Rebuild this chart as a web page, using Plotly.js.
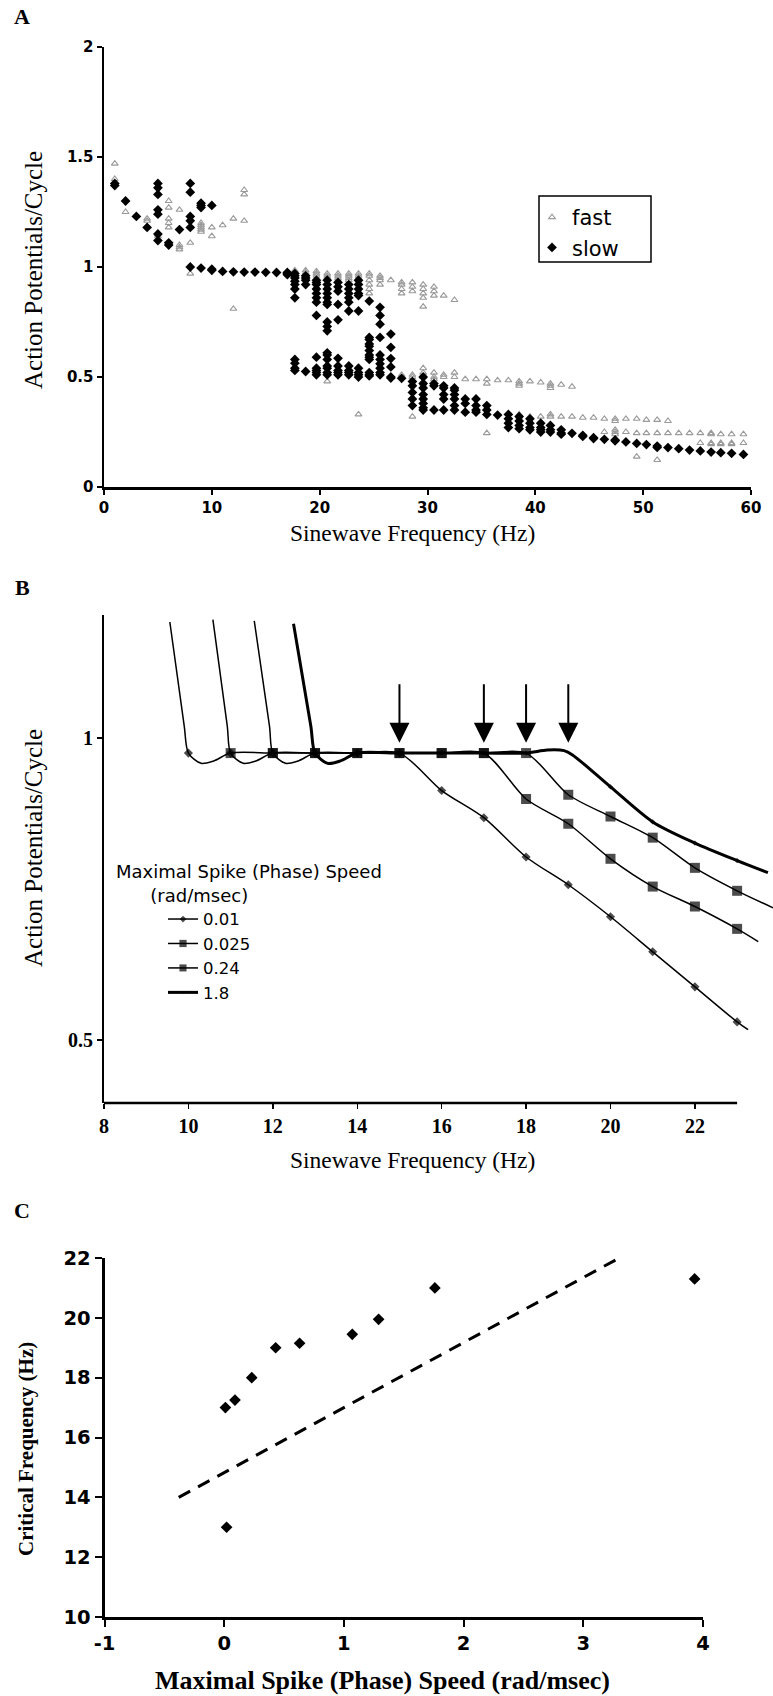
<!DOCTYPE html>
<html>
<head>
<meta charset="utf-8">
<script src="https://cdn.plot.ly/plotly-3.0.1.min.js"></script>
<style>html,body{margin:0;padding:0;background:#fff;}#chart{width:773px;height:1696px;}</style>
</head>
<body>
<div id="chart"></div>
<script>
// ---------- Panel A data (frequency columns and the values read in each) ----------
const slowFreq = [1,2,3,4,5,6,7,8,9,10,11,12,13,14,15,16,17,17.7,18.7,19.7,20.7,21.7,22.7,23.6,24.6,25.6,26.6,27.6,28.6,29.6,30.6,31.5,32.5,33.5,34.5,35.5,36.5,37.5,38.5,39.5,40.5,41.4,42.4,43.4,44.4,45.4,46.4,47.4,48.4,49.4,50.3,51.3,52.3,53.3,54.3,55.3,56.3,57.2,58.2,59.3,60.1];
const slowVals = [
  [1.38,1.37],[1.30],[1.23],[1.18],[1.38,1.36,1.33,1.26,1.24,1.15,1.12],[1.11,1.10],[1.17],
  [1.38,1.34,1.23,1.21,1.18,1.00],[1.29,1.28,1.27,0.995],[1.28,0.99,0.985],[0.98],[0.978],[0.977],[0.977],[0.976],[0.975],[0.975,0.97,0.965],
  [0.97,0.96,0.95,0.935,0.92,0.90,0.86,0.58,0.563,0.54,0.53],
  [0.96,0.95,0.94,0.92,0.525],
  [0.94,0.93,0.92,0.90,0.88,0.86,0.84,0.78,0.59,0.54,0.53,0.52,0.51],
  [0.94,0.92,0.90,0.88,0.86,0.84,0.83,0.75,0.73,0.71,0.61,0.60,0.58,0.55,0.54,0.52,0.51],
  [0.93,0.91,0.89,0.83,0.76,0.585,0.55,0.53,0.52,0.51],
  [0.92,0.90,0.88,0.86,0.84,0.80,0.55,0.53,0.52,0.51],
  [0.94,0.92,0.90,0.88,0.87,0.80,0.54,0.52,0.51,0.50],
  [0.845,0.68,0.67,0.65,0.64,0.62,0.60,0.59,0.58,0.52,0.51,0.505],
  [0.817,0.78,0.74,0.68,0.60,0.58,0.56,0.54,0.52,0.51],
  [0.695,0.635,0.584,0.546,0.50,0.495],
  [0.494],
  [0.48,0.46,0.43,0.40,0.37],
  [0.50,0.47,0.45,0.42,0.40,0.38,0.36,0.35],
  [0.47,0.46,0.35],
  [0.46,0.45,0.42,0.40,0.35],
  [0.45,0.44,0.42,0.40,0.37,0.35],
  [0.40,0.38,0.34],
  [0.40,0.37,0.35,0.34],
  [0.37,0.35,0.33],
  [0.327],
  [0.33,0.31,0.29,0.27],
  [0.32,0.30,0.28,0.265],
  [0.31,0.29,0.27,0.26],
  [0.29,0.27,0.26,0.25],
  [0.28,0.26,0.25],
  [0.26,0.245,0.24],
  [0.244],[0.235,0.23],[0.224,0.22],[0.217],[0.214,0.21],[0.205],[0.198],[0.193],[0.186,0.18],[0.179],[0.174],[0.168],[0.164],[0.159],[0.156],[0.153],[0.148],[0.144]
];
const fastFreq = [1,2,4,5,6,7,8,9,10,11,12,13,17.7,18.7,19.7,20.7,21.7,22.7,23.6,24.6,25.6,26.6,27.6,28.6,29.6,30.6,31.5,32.5,33.5,34.5,35.5,36.5,37.5,38.5,39.5,40.5,41.4,42.4,43.4,44.4,45.4,46.4,47.4,48.4,49.4,50.3,51.3,52.3,53.3,54.3,55.3,56.3,57.2,58.2,59.3,60.1];
const fastVals = [
  [1.47,1.40],[1.25],[1.22,1.21],[1.15,1.14],[1.30,1.27,1.22,1.20,1.18],[1.26,1.10,1.09,1.08],[1.11,0.97],
  [1.20,1.19,1.18,1.17,1.16],[1.18,1.14],[1.19],[1.22,0.81],[1.35,1.33,1.21],
  [0.985,0.98],[0.985,0.975],[0.98,0.97,0.96],[0.97,0.96,0.95,0.48],[0.97,0.96,0.95,0.94],[0.97,0.96,0.95,0.94],
  [0.97,0.96,0.95,0.94,0.93,0.33],[0.97,0.96,0.94,0.92,0.90,0.88],[0.96,0.95,0.94,0.92],[0.94],
  [0.93,0.92,0.90,0.88,0.51],[0.93,0.91,0.89,0.51,0.50,0.48,0.32],[0.92,0.90,0.88,0.86,0.82,0.54,0.52,0.50,0.48,0.47],
  [0.91,0.89,0.87,0.52,0.50,0.49],[0.87,0.51,0.50],[0.85,0.52,0.50],[0.49],[0.49],[0.49,0.47,0.245],[0.485],[0.485],
  [0.48,0.47,0.46,0.33,0.32],[0.48,0.32],[0.475,0.32],[0.47,0.46,0.45,0.33,0.32],[0.465,0.32],[0.456,0.32],[0.315],[0.315],
  [0.31,0.25],[0.31,0.30,0.26,0.25,0.24],[0.31,0.25],[0.31,0.245,0.138],[0.305,0.245],[0.305,0.245,0.123],[0.30,0.245],
  [0.245],[0.245],[0.245,0.2],[0.245,0.24,0.2,0.195],[0.24,0.2,0.195],[0.24,0.2,0.195],[0.24,0.2],[0.235,0.2,0.1]
];

// ---------- Panel B data ----------
const bNames = ['0.01','0.025','0.24','1.8'];
const bX001 = [9.56,9.9,10,10.3,10.6,11,12,13,14,15,16,17,18,19,20,21,22,23,23.26];
const bY001 = [1.192,1.02,0.975,0.958,0.962,0.975,0.975,0.975,0.975,0.975,0.913,0.868,0.803,0.757,0.704,0.646,0.588,0.530,0.517];
const bX0025 = [10.58,10.92,11,11.3,11.6,12,13,14,15,16,17,18,19,20,21,22,23,23.5];
const bY0025 = [1.196,1.02,0.975,0.958,0.962,0.975,0.975,0.975,0.975,0.975,0.975,0.899,0.858,0.800,0.754,0.721,0.684,0.663];
const bX024 = [11.56,11.92,12,12.3,12.6,13,14,15,16,17,18,19,20,21,22,23,23.85];
const bY024 = [1.194,1.02,0.975,0.958,0.962,0.975,0.975,0.975,0.975,0.975,0.975,0.906,0.870,0.835,0.785,0.747,0.719];
const bX18 = [12.49,12.9,13,13.3,13.6,14,15,16,17,18,18.5,18.9,19.1,20,21,22,23,23.73];
const bY18 = [1.189,1.02,0.975,0.958,0.962,0.975,0.975,0.975,0.975,0.975,0.98,0.979,0.972,0.919,0.861,0.826,0.797,0.777];
const arrowFreq = [15,17,18,19];
const arrowLevel = 0.992;

// ---------- Panel C data ----------
const cSpeed = [0.02,0.01,0.09,0.23,0.43,0.63,1.07,1.29,1.76,3.93];
const cFreq  = [13,17,17.25,18,19,19.15,19.45,19.95,21,21.3];
const cTrendX = [-0.38,3.3];
const cTrendY = [14,22];

// ---------- build ----------
function flatten(freqs, vals){
  const xs=[], ys=[];
  freqs.forEach((f,i)=>vals[i].forEach(v=>{xs.push(f);ys.push(v);}));
  return {xs,ys};
}
const S = flatten(slowFreq, slowVals);
const F = flatten(fastFreq, fastVals);

const W=773, H=1696;
const px=v=>v/W, py=v=>1-v/H;

const sans='DejaVu Sans', serif='Liberation Serif';
const traces=[];
traces.push({type:'scatter',mode:'markers',x:F.xs,y:F.ys,name:'fast',xaxis:'x',yaxis:'y',cliponaxis:false,
  marker:{symbol:'triangle-up-open',size:6,color:'#9a9a9a',line:{width:1.1,color:'#9a9a9a'}},legend:'legend'});
traces.push({type:'scatter',mode:'markers',x:S.xs,y:S.ys,name:'slow',xaxis:'x',yaxis:'y',cliponaxis:false,
  marker:{symbol:'diamond',size:7.5,color:'#000'},legend:'legend'});

const bSeries=[[bX001,bY001,'diamond',7,1.5],[bX0025,bY0025,'square',10,1.5],[bX024,bY024,'square',10,1.5],[bX18,bY18,'diamond',4,3]];
bSeries.forEach((s,i)=>{
  traces.push({type:'scatter',mode:'lines+markers',x:s[0],y:s[1],name:bNames[i],xaxis:'x2',yaxis:'y2',cliponaxis:false,
    line:{shape:'spline',smoothing:0.8,color:'#000',width:s[4]},
    marker:{symbol:s[2],color:'#000',line:{width:0},size:s[0].map(v=>Number.isInteger(v)?s[3]:0)},legend:'legend2'});
});

traces.push({type:'scatter',mode:'lines',x:cTrendX,y:cTrendY,xaxis:'x3',yaxis:'y3',showlegend:false,
  line:{color:'#000',width:3,dash:'13px,9px'}});
traces.push({type:'scatter',mode:'markers',x:cSpeed,y:cFreq,xaxis:'x3',yaxis:'y3',showlegend:false,cliponaxis:false,
  marker:{symbol:'diamond',size:9,color:'#000'}});

const axBase={showgrid:false,zeroline:false,showline:true,linecolor:'#000',ticks:'outside',tickcolor:'#000',fixedrange:true};

function note(text,x,y,font,angle){
  return {text:text,xref:'paper',yref:'paper',x:px(x),y:py(y),xanchor:'center',yanchor:'middle',showarrow:false,font:font,textangle:angle||0};
}
const letterFont={family:serif,size:22,weight:700,color:'#000'};
const titleFont={family:serif,size:25,color:'#000'};
const xTitleFont={family:serif,size:23.5,color:'#000'};
const annotations=[
  note('A',22,17,letterFont), note('B',22,587,letterFont), note('C',22,1210,letterFont),
  note('Action Potentials/Cycle',33,270,titleFont,-90),
  note('Sinewave Frequency (Hz)',412,533,xTitleFont),
  note('Action Potentials/Cycle',33,848,titleFont,-90),
  note('Sinewave Frequency (Hz)',412,1160,xTitleFont),
  note('Critical Frequency (Hz)',26,1449,{family:serif,size:21,weight:700,color:'#000'},-90),
  note('Maximal Spike (Phase) Speed (rad/msec)',382,1680,{family:serif,size:26,weight:700,color:'#000'})
];
arrowFreq.forEach(f=>annotations.push({x:f,y:arrowLevel,xref:'x2',yref:'y2',text:'',showarrow:true,ax:0,ay:-60,axref:'pixel',ayref:'pixel',arrowhead:2,arrowsize:2,arrowwidth:2,arrowcolor:'#000'}));

const layout={
  width:W,height:H,margin:{l:0,r:0,t:0,b:0},paper_bgcolor:'#fff',plot_bgcolor:'rgba(0,0,0,0)',
  xaxis:Object.assign({},axBase,{domain:[px(104),px(751)],anchor:'y',range:[0,60],tickvals:[0,10,20,30,40,50,60],linewidth:2.5,tickwidth:2,ticklen:5,tickfont:{family:sans,size:15,weight:700,color:'#000'}}),
  yaxis:Object.assign({},axBase,{domain:[py(487),py(47)],anchor:'x',range:[0,2],tickvals:[0,0.5,1,1.5,2],linewidth:2.5,tickwidth:2,ticklen:5,tickfont:{family:sans,size:15,weight:700,color:'#000'}}),
  xaxis2:Object.assign({},axBase,{domain:[px(104),1],anchor:'y2',range:[8,23.85],showline:false,tickvals:[8,10,12,14,16,18,20,22],tickwidth:1.5,ticklen:5,tickfont:{family:serif,size:20,weight:700,color:'#000'}}),
  yaxis2:Object.assign({},axBase,{domain:[py(1103),py(615)],anchor:'x2',range:[0.3957,1.2036],tickvals:[0.5,1],ticktext:['0.5','1'],linewidth:2,tickwidth:1.5,ticklen:5,tickfont:{family:serif,size:20,weight:700,color:'#000'}}),
  xaxis3:Object.assign({},axBase,{domain:[px(104.5),px(703)],anchor:'y3',range:[-1,4],tickvals:[-1,0,1,2,3,4],ticktext:['-1','0','1','2','3','4'],linewidth:3,tickwidth:2,ticklen:7,tickfont:{family:sans,size:19.5,weight:700,color:'#000'}}),
  yaxis3:Object.assign({},axBase,{domain:[py(1617),py(1258)],anchor:'x3',range:[10,22],tickvals:[10,12,14,16,18,20,22],linewidth:3,tickwidth:2,ticklen:7,tickfont:{family:sans,size:19.5,weight:700,color:'#000'}}),
  shapes:[
    {type:'line',xref:'x2',yref:'paper',x0:8,x1:23,y0:py(1103),y1:py(1103),line:{color:'#000',width:2.5}},
    {type:'rect',xref:'paper',yref:'paper',x0:px(539),x1:px(651),y0:py(196),y1:py(262),line:{color:'#000',width:1.5},fillcolor:'rgba(0,0,0,0)'}
  ],
  legend:{x:px(532),y:py(197),xanchor:'left',yanchor:'top',borderwidth:0,bgcolor:'rgba(0,0,0,0)',
    font:{family:sans,size:21,color:'#000'},itemwidth:30,tracegroupgap:0},
  legend2:{x:px(114),y:py(855),xanchor:'left',yanchor:'top',bgcolor:'rgba(0,0,0,0)',borderwidth:0,
    title:{text:'Maximal Spike (Phase) Speed<br>\u00a0\u00a0\u00a0\u00a0\u00a0\u00a0(rad/msec)',font:{family:sans,size:18,color:'#000'}},
    font:{family:sans,size:16.5,color:'#000'},indentation:49,itemwidth:30,tracegroupgap:0},
  annotations:annotations,
  showlegend:true
};
Plotly.newPlot('chart',traces,layout,{staticPlot:true});
</script>
</body>
</html>
